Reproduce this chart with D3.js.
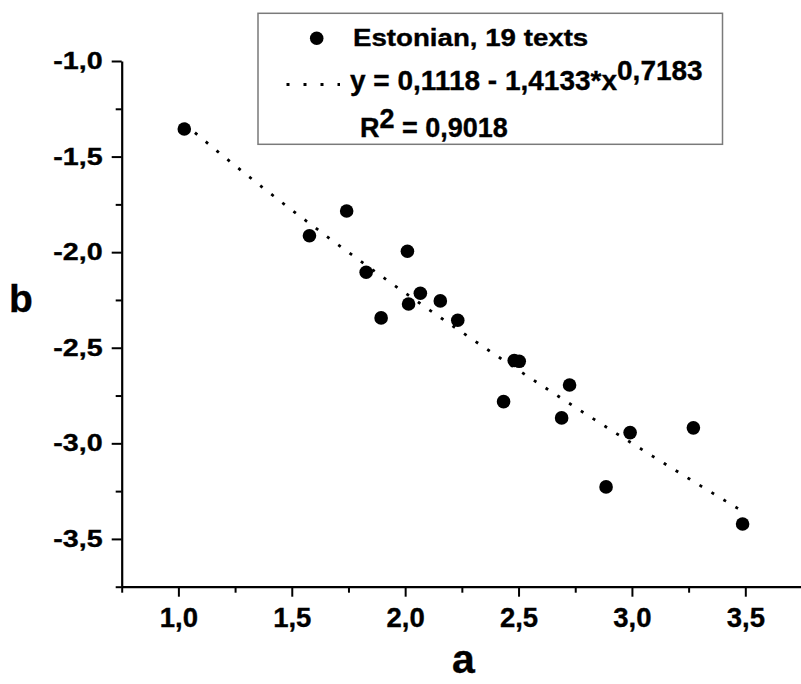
<!DOCTYPE html>
<html>
<head>
<meta charset="utf-8">
<script src="https://cdn.jsdelivr.net/npm/d3@7"></script>
<style>
  html, body { margin: 0; padding: 0; background: #fff; }
  svg { display: block; }
  text { font-family: "Liberation Sans", Arial, sans-serif; font-weight: bold; fill: #000; stroke: #000; stroke-width: 0.35px; }
</style>
</head>
<body>
<svg id="chart" width="801" height="684"></svg>
<script>
// Estonian texts: parameters a and b of each text
const aValues = [1.026, 1.742, 1.578, 2.010, 1.828, 2.067, 2.015, 2.155, 1.894, 2.232,
                 2.481, 2.503, 2.725, 2.434, 2.690, 2.992, 3.271, 2.886, 3.488];
const bValues = [-1.356, -1.785, -1.914, -1.995, -2.105, -2.215, -2.271, -2.255, -2.344, -2.356,
                 -2.567, -2.571, -2.695, -2.782, -2.867, -2.944, -2.919, -3.228, -3.422];

// Fitted power curve b = c0 - c1 * a^p
const fitC0 = 0.1118;
const fitC1 = 1.4133;
const fitP = 0.7183;
const fitR2 = 0.9018;

const xTicks = [1.0, 1.5, 2.0, 2.5, 3.0, 3.5];
const xMinorTicks = [0.75, 1.25, 1.75, 2.25, 2.75, 3.25, 3.75];
const yTicks = [-1.0, -1.5, -2.0, -2.5, -3.0, -3.5];
const yMinorTicks = [-1.25, -1.75, -2.25, -2.75, -3.25, -3.75];

const seriesLabel = "Estonian, 19 texts";
const xTitle = "a";
const yTitle = "b";

const fmt = v => v.toFixed(1).replace(".", ",");
const fmtCoef = v => v.toFixed(4).replace(".", ",");

const svg = d3.select("#chart");
const plot = { left: 121.7, right: 802, top: 61, bottom: 586.7 };

const x = d3.scaleLinear().domain([0.75, 3.75]).range([plot.left, plot.right]);
const y = d3.scaleLinear().domain([-3.75, -1.0]).range([plot.bottom, plot.top]);

// minor ticks
svg.append("g")
  .attr("transform", `translate(0,${plot.bottom})`)
  .call(d3.axisBottom(x).tickValues(xMinorTicks).tickSize(6).tickFormat(""))
  .call(g => g.select(".domain").remove())
  .selectAll("line").attr("stroke", "#000").attr("stroke-width", 2);
svg.append("g")
  .attr("transform", `translate(${plot.left},0)`)
  .call(d3.axisLeft(y).tickValues(yMinorTicks).tickSize(6).tickFormat(""))
  .call(g => g.select(".domain").remove())
  .selectAll("line").attr("stroke", "#000").attr("stroke-width", 2);

// x axis
const gx = svg.append("g")
  .attr("transform", `translate(0,${plot.bottom})`)
  .call(d3.axisBottom(x).tickValues(xTicks).tickSize(10).tickSizeOuter(0).tickPadding(11).tickFormat(fmt));
gx.select(".domain").attr("stroke", "#000").attr("stroke-width", 2.2);
gx.selectAll(".tick line").attr("stroke", "#000").attr("stroke-width", 2);
gx.selectAll(".tick text").attr("font-size", 27.5).attr("font-family", null);

// y axis
const gy = svg.append("g")
  .attr("transform", `translate(${plot.left},0)`)
  .call(d3.axisLeft(y).tickValues(yTicks).tickSize(10).tickSizeOuter(0).tickPadding(9).tickFormat(fmt));
gy.select(".domain").attr("stroke", "#000").attr("stroke-width", 2.2);
gy.selectAll(".tick line").attr("stroke", "#000").attr("stroke-width", 2);
gy.selectAll(".tick text")
  .attr("font-size", 23.5)
  .attr("font-family", null)
  .attr("x", 0)
  .attr("transform", "translate(-19,0) scale(1.22,1)");

// axis titles
svg.append("text")
  .attr("x", 9).attr("y", 311.5)
  .attr("font-size", 39)
  .text(yTitle);
svg.append("text")
  .attr("x", (plot.left + 801) / 2 + 2).attr("y", 673)
  .attr("text-anchor", "middle")
  .attr("font-size", 41)
  .text(xTitle);

// fitted curve over the range of a
const aExtent = d3.extent(aValues);
const curvePts = d3.range(0, 201).map(i => {
  const a = aExtent[0] + (aExtent[1] - aExtent[0]) * i / 200;
  return [a, fitC0 - fitC1 * Math.pow(a, fitP)];
});
svg.append("path")
  .datum(curvePts)
  .attr("fill", "none")
  .attr("stroke", "#000")
  .attr("stroke-width", 2.8)
  .attr("stroke-dasharray", "3,11")
  .attr("d", d3.line().x(d => x(d[0])).y(d => y(d[1])));

// data points
svg.append("g")
  .selectAll("circle")
  .data(aValues.map((a, i) => [a, bValues[i]]))
  .join("circle")
  .attr("cx", d => x(d[0]))
  .attr("cy", d => y(d[1]))
  .attr("r", 6.8)
  .attr("fill", "#000");

// legend
const lg = svg.append("g");
lg.append("rect")
  .attr("x", 258).attr("y", 13.3)
  .attr("width", 464.5).attr("height", 131)
  .attr("fill", "#fff")
  .attr("stroke", "#7a7a7a")
  .attr("stroke-width", 1.5);
lg.append("circle").attr("cx", 316.7).attr("cy", 38.3).attr("r", 6.8).attr("fill", "#000");
lg.append("text")
  .attr("transform", "translate(353,45.5) scale(1.13,1)")
  .attr("font-size", 24.5)
  .text(seriesLabel);
lg.append("line")
  .attr("x1", 286.5).attr("x2", 340).attr("y1", 84.5).attr("y2", 84.5)
  .attr("stroke", "#000").attr("stroke-width", 2.8)
  .attr("stroke-dasharray", "3,14");
const eq = lg.append("text").attr("x", 350).attr("y", 90).attr("font-size", 28);
eq.append("tspan").text(`y = ${fmtCoef(fitC0)} - ${fmtCoef(fitC1)}*x`);
eq.append("tspan").attr("dy", -10).text(fmtCoef(fitP));
const r2 = lg.append("text").attr("x", 360).attr("y", 136.7).attr("font-size", 27);
r2.append("tspan").text("R");
r2.append("tspan").attr("dy", -9).text("2");
r2.append("tspan").attr("dy", 9).text(` = ${fmtCoef(fitR2)}`);
</script>
</body>
</html>
